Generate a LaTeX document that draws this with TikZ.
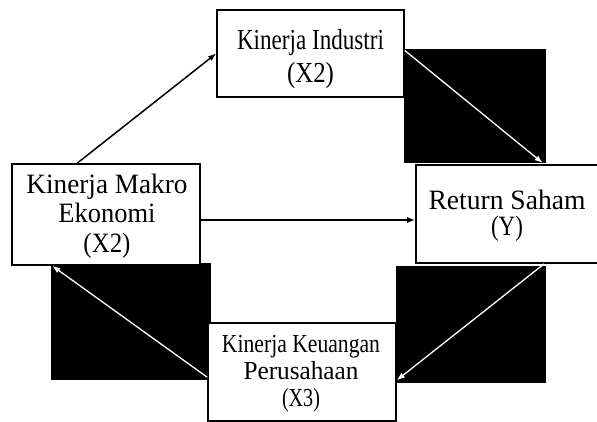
\documentclass[tikz,border=0pt]{standalone}
\usepackage{fontspec}
\usepackage{graphicx}
\setmainfont{Liberation Serif}
\newcommand\fitw[2]{\resizebox{#1pt}{\height}{#2}}
\usetikzlibrary{arrows.meta,calc}
\begin{document}
\begin{tikzpicture}[x=1pt,y=-1pt,
  box/.style={draw,line width=1.6pt,fill=white,inner sep=0pt},
  lbl/.style={inner sep=0pt,align=center},
  blk/.style={fill=black},
  arr/.style={line width=1.5pt,-{Latex[length=8pt,width=6pt]}},
  warr/.style={white,line width=1.3pt,-{Latex[length=8pt,width=6pt]}}]
\useasboundingbox (0,0) rectangle (597,422);
\clip (0,0) rectangle (597,422);
% black patches
\fill[blk] (404,49) rectangle (546,163);
\fill[blk] (396,266) rectangle (546,383);
\fill[blk] (51,263) rectangle (211,380);
% boxes
\node[box,minimum width=187pt,minimum height=87pt] (ind) at (310.5,53.5) {};
\node[box,minimum width=188pt,minimum height=101pt] (mak) at (106,214.5) {};
\node[box,minimum width=182pt,minimum height=98pt] (ret) at (507,214) {};
\node[box,minimum width=188pt,minimum height=98pt] (keu) at (302,372) {};
% texts
\node[lbl,font=\fontsize{29}{33}\selectfont] (indt) at ($(ind.center)+(0,5.2)$)
  {\fitw{147}{Kinerja Industri}\\\fitw{47}{(X2)}};
\node[lbl,font=\fontsize{28}{29.5}\selectfont] (makt) at ($(mak.center)+(1,1.5)$)
  {\fitw{161}{Kinerja Makro}\\\fitw{97}{Ekonomi}\\\fitw{47}{(X2)}};
\node[lbl,font=\fontsize{28}{26}\selectfont] (rett) at ($(ret.center)+(0,1.4)$)
  {\fitw{157}{Return Saham}\\\fitw{32}{(Y)}};
\node[lbl,font=\fontsize{26}{27}\selectfont] (keut) at ($(keu.center)+(-1,1.9)$)
  {\fitw{158}{Kinerja Keuangan}\\\fitw{115}{Perusahaan}\\\fitw{38}{(X3)}};
% connectors
\draw[arr] ($(mak.north west)+(66,0)$) -- (ind.west);
\draw[arr] ($(mak.east)+(0,5.5)$) -- ($(ret.west)+(0,6)$);
\draw[warr,shorten >=2pt] ($(ind.east)+(0,-3)$) -- ($(ret.north west)+(129,0)$);
\draw[warr] ($(ret.south west)+(129,0)$) -- ($(keu.north east)+(0,58)$);
\draw[warr] ($(keu.north west)+(0,55)$) -- ($(mak.south west)+(41,0)$);
\end{tikzpicture}
\end{document}
